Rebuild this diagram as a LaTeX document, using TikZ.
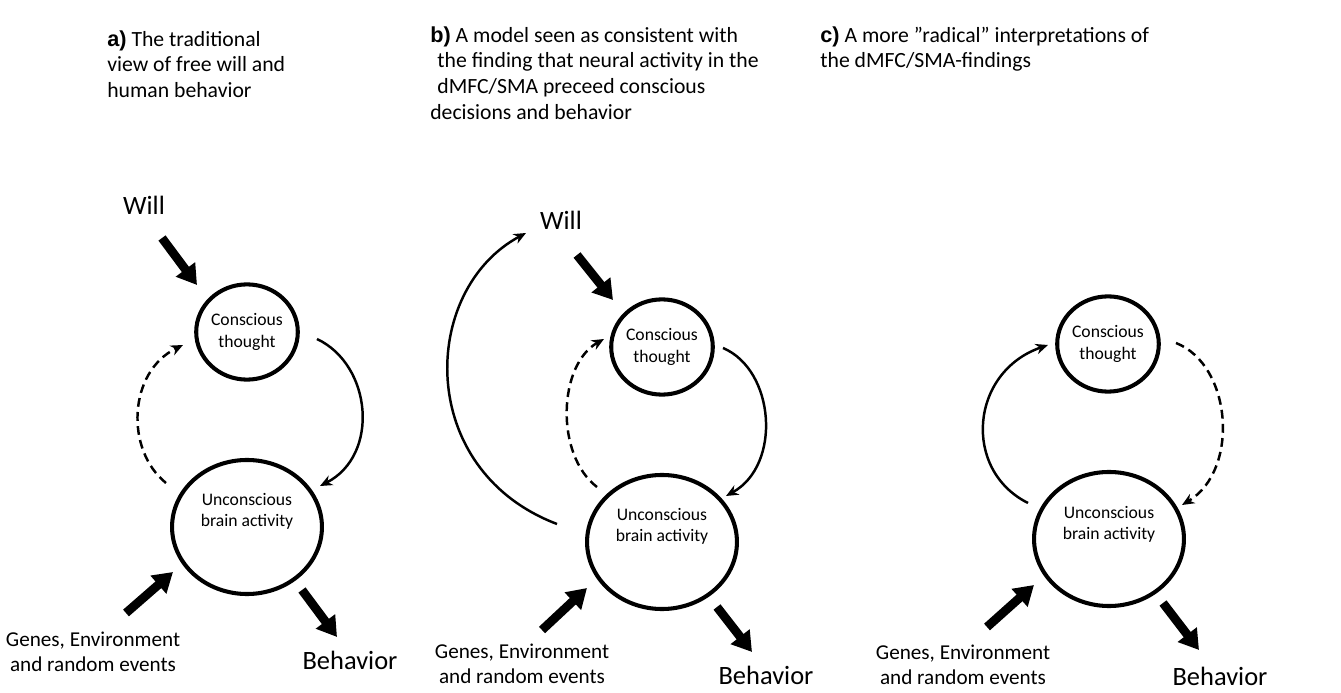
\documentclass[tikz,border=0pt]{standalone}
\usepackage{fontspec}
\setmainfont{Carlito}
\newfontfamily\labfont{Liberation Sans}
\usetikzlibrary{arrows.meta,shapes.geometric}
\tikzset{
  circs/.style={draw, ellipse, line width=2.3pt, minimum width=57pt, minimum height=54pt, inner sep=0pt, font=\fontsize{10}{12}\selectfont, align=center},
  circl/.style={draw, ellipse, line width=2.3pt, minimum width=85pt, minimum height=76pt, inner sep=0pt},
  intext/.style={font=\fontsize{10}{12}\selectfont, align=center, inner sep=0pt},
  bigarrow/.style={line width=5pt, -{Triangle[length=11pt,width=13pt]}},
  thinarrow/.style={line width=1.4pt, -{Stealth[length=7pt,width=6pt]}},
  dasharrow/.style={thinarrow, dash pattern=on 5pt off 3pt},
  lab/.style={font=\fontsize{12}{14.2}\selectfont, align=center, inner sep=0pt},
  biglab/.style={font=\fontsize{15}{18}\selectfont, inner sep=0pt},
  title/.style={font=\fontsize{12.3}{14.7}\selectfont, align=left, inner sep=0pt, anchor=north west},
}
\newcommand{\tl}[1]{{\labfont\bfseries #1}}
\begin{document}
\begin{tikzpicture}[x=0.567pt, y=-0.567pt]
\useasboundingbox (0,0) rectangle (1341,693);
% titles
\node[title] (ta) at (107,30) {\tl{a)} The traditional\\view of free will and\\human behavior};
\node[title] (tb) at (430,26) {\tl{b)} A model seen as consistent with\\\hspace*{4pt}the finding that neural activity in the\\\hspace*{4pt}dMFC/SMA preceed conscious\\decisions and behavior};
\node[title] (tc) at (820,26) {\tl{c)} A more ”radical” interpretations of\\the dMFC/SMA-findings};

% ---------- panel a
\node[biglab] (willa) at (144,205) {Will};
\node[circs] (cta) at (247,332) {Conscious\\thought};
\node[circl] (uca) at (247,527) {};
\node[intext] (ucta) at (247,511) {Unconscious\\brain activity};
\node[lab] (gena) at (93,652) {Genes, Environment\\and random events};
\node[biglab] (beha) at (350,660) {Behavior};
\coordinate (wa1) at (162,238); \coordinate (wa2) at (197,285);
\coordinate (ga1) at (126,613); \coordinate (ga2) at (173,572);
\coordinate (ba1) at (302,590); \coordinate (ba2) at (337,637);
\coordinate (da1) at (166,483); \coordinate (da2) at (183,345);
\coordinate (sa1) at (317,339); \coordinate (sa2) at (320,486);
\draw[bigarrow] (wa1) -- (wa2);
\draw[bigarrow] (ga1) -- (ga2);
\draw[bigarrow] (ba1) -- (ba2);
\draw[dasharrow] (da1) .. controls (125,450) and (128,372) .. (da2);
\draw[thinarrow] (sa1) .. controls (372,365) and (380,455) .. (sa2);

% ---------- panel b
\node[biglab] (willb) at (561,220) {Will};
\node[circs] (ctb) at (662,347) {Conscious\\thought};
\node[circl] (ucb) at (662,542) {};
\node[intext] (uctb) at (662,526) {Unconscious\\brain activity};
\node[lab] (genb) at (522,664) {Genes, Environment\\and random events};
\node[biglab] (behb) at (766,675) {Behavior};
\coordinate (wb1) at (577,255); \coordinate (wb2) at (613,300);
\coordinate (gb1) at (542,630); \coordinate (gb2) at (587,588);
\coordinate (bb1) at (717,607); \coordinate (bb2) at (752,652);
\coordinate (db1) at (597,487); \coordinate (db2) at (604,339);
\coordinate (sb1) at (723,348); \coordinate (sb2) at (726,496);
\coordinate (lb1) at (557,524); \coordinate (lb2) at (526,233);
\draw[bigarrow] (wb1) -- (wb2);
\draw[bigarrow] (gb1) -- (gb2);
\draw[bigarrow] (bb1) -- (bb2);
\draw[dasharrow] (db1) .. controls (555,455) and (558,365) .. (db2);
\draw[thinarrow] (sb1) .. controls (775,370) and (782,465) .. (sb2);
\draw[thinarrow] (lb1) .. controls (415,470) and (420,290) .. (lb2);

% ---------- panel c
\node[circs] (ctc) at (1108,344) {Conscious\\thought};
\node[circl] (ucc) at (1109,539) {};
\node[intext] (uctc) at (1109,524) {Unconscious\\brain activity};
\node[lab] (genc) at (963,665) {Genes, Environment\\and random events};
\node[biglab] (behc) at (1220,676) {Behavior};
\coordinate (gc1) at (987,627); \coordinate (gc2) at (1034,585);
\coordinate (bc1) at (1163,603); \coordinate (bc2) at (1199,650);
\coordinate (sc1) at (1028,503); \coordinate (sc2) at (1048,345);
\coordinate (dc1) at (1176,343); \coordinate (dc2) at (1182,505);
\draw[bigarrow] (gc1) -- (gc2);
\draw[bigarrow] (bc1) -- (bc2);
\draw[thinarrow] (sc1) .. controls (962,470) and (970,372) .. (sc2);
\draw[dasharrow] (dc1) .. controls (1232,365) and (1240,470) .. (dc2);
\end{tikzpicture}
\end{document}
